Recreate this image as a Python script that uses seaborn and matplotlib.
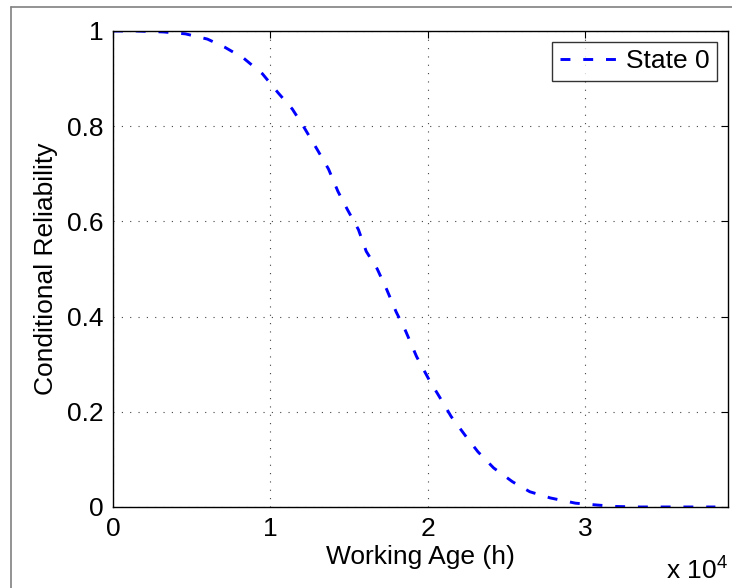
import numpy as np
import pandas as pd
import matplotlib
matplotlib.use('Agg')
import matplotlib.pyplot as plt
from matplotlib.lines import Line2D
import seaborn as sns

# working age (h) and conditional reliability
age_h = [0, 1500, 3200, 4600, 6000, 7100, 8300, 9500, 10500, 11400, 12100,
         13000, 13700, 14300, 14900, 15600, 16100, 16800, 17400, 18000,
         18600, 19300, 20100, 20800, 21500, 22400, 23200, 24200, 25400,
         26500, 27800, 29400, 30800, 32000, 33500, 35000, 36500, 38300]
reliability = [1.0, 1.0, 0.998, 0.994, 0.983, 0.966, 0.943, 0.91, 0.87, 0.836, 0.80,
               0.75, 0.71, 0.663, 0.625, 0.583, 0.537, 0.50, 0.457, 0.41,
               0.37, 0.316, 0.267, 0.229, 0.19, 0.15, 0.116, 0.082, 0.053,
               0.032, 0.019, 0.008, 0.004, 0.001, 0.0, 0.0, 0.0, 0.0]
series_name = "State 0"
x_ticks = [0, 10000, 20000, 30000]
y_ticks = [0, 0.2, 0.4, 0.6, 0.8, 1.0]

df = pd.DataFrame({"age": age_h, "rel": reliability})

sns.set_style("white")
plt.rcParams['font.family'] = ['Liberation Sans', 'DejaVu Sans']
plt.rcParams['mathtext.default'] = 'regular'
plt.rcParams['text.color'] = 'black'
plt.rcParams['axes.labelcolor'] = 'black'
plt.rcParams['xtick.color'] = 'black'
plt.rcParams['ytick.color'] = 'black'

FS = 19

fig = plt.figure(figsize=(7.32, 5.88), dpi=100)
ax = fig.add_axes([0.1544, 0.1378, 0.8401, 0.8095])

sns.lineplot(data=df, x="age", y="rel", ax=ax, color='#0000ff', lw=2.1,
             label=series_name)
ax.lines[0].set_dashes((3.4, 4.4))

ax.set_xlim(0, 39100)
ax.set_ylim(0, 1)
ax.set_xticks(x_ticks)
ax.set_xticklabels([f"{t / 1e4:g}" for t in x_ticks])
ax.set_yticks(y_ticks)
ax.set_yticklabels([f"{t:g}" for t in y_ticks])

ax.grid(True, linestyle=(0, (1, 6.5)), color='#444444', linewidth=0.8)
ax.tick_params(direction='in', length=5, width=0.8, labelsize=FS,
               top=True, right=True, color='black', pad=7)
for s in ax.spines.values():
    s.set_color('black')
    s.set_linewidth(1.0)

ax.set_xlabel("Working Age (h)", fontsize=FS, labelpad=3)
ax.set_ylabel("Conditional Reliability", fontsize=FS, labelpad=6)

leg = ax.legend(loc='upper right', fontsize=FS, frameon=True, fancybox=False,
                handlelength=2.4, handletextpad=0.1, borderpad=0.3,
                borderaxespad=0.4)
leg.get_frame().set_edgecolor('black')
leg.get_frame().set_linewidth(1.0)

fig.text(0.994, 8 / 588, r"x 10$^{4}$", fontsize=FS, ha='right', va='baseline')

# grey outer border (left and top edges)
fig.add_artist(Line2D([11 / 732, 11 / 732], [0, 1 - 7 / 588], color='#808080', lw=1.2))
fig.add_artist(Line2D([11 / 732, 1], [1 - 7 / 588, 1 - 7 / 588], color='#808080', lw=1.2))

fig.savefig("out.png", dpi=100)
